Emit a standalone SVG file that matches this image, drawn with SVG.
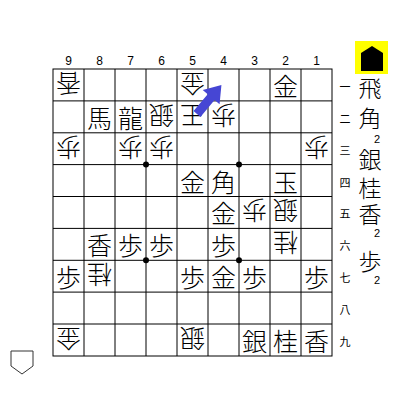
<svg xmlns="http://www.w3.org/2000/svg" width="400" height="416" viewBox="0 0 400 416">
<style>
.p{font-family:"Noto Sans CJK JP","Noto Sans CJK SC",sans-serif;font-size:25px;font-weight:300;fill:#000;text-anchor:middle;dominant-baseline:central}
.h{font-family:"Noto Sans CJK JP","Noto Sans CJK SC",sans-serif;font-size:23px;font-weight:300;fill:#000;text-anchor:middle;dominant-baseline:central}
.n{font-family:"Liberation Sans","DejaVu Sans",sans-serif;font-size:12px;fill:#000;text-anchor:middle;dominant-baseline:central}
.c{font-family:"Liberation Sans","DejaVu Sans",sans-serif;font-size:11px;fill:#000;text-anchor:middle;dominant-baseline:central}
.r{font-family:"Noto Sans CJK JP",sans-serif;font-size:11px;fill:#000;text-anchor:middle;dominant-baseline:central}
.g{stroke:#000;stroke-width:1;fill:none}
</style>
<rect width="400" height="416" fill="#fff"/>
<g id="board">
<rect x="53" y="69" width="279" height="287" class="g"/>
<path class="g" d="M84 69V356M115 69V356M146 69V356M177 69V356M208 69V356M239 69V356M270 69V356M301 69V356M53 100.9H332M53 132.8H332M53 164.6H332M53 196.5H332M53 228.4H332M53 260.3H332M53 292.1H332M53 324H332"/>
<circle cx="146" cy="164.6" r="3"/><circle cx="239" cy="164.6" r="3"/><circle cx="146" cy="260.3" r="3"/><circle cx="239" cy="260.3" r="3"/>
</g>
<g id="col-labels">
<text class="n" x="68.5" y="61">9</text><text class="n" x="99.5" y="61">8</text><text class="n" x="130.5" y="61">7</text><text class="n" x="161.5" y="61">6</text><text class="n" x="192.5" y="61">5</text><text class="n" x="223.5" y="61">4</text><text class="n" x="254.5" y="61">3</text><text class="n" x="285.5" y="61">2</text><text class="n" x="316.5" y="61">1</text>
</g>
<g id="row-labels">
<text class="r" x="345" y="86">一</text><text class="r" x="345" y="118">二</text><text class="r" x="345" y="150">三</text><text class="r" x="345" y="182">四</text><text class="r" x="345" y="213">五</text><text class="r" x="345" y="245">六</text><text class="r" x="345" y="277">七</text><text class="r" x="345" y="309">八</text><text class="r" x="345" y="341">九</text>
</g>
<g id="p91"><text class="p" x="68.5" y="84.9" transform="rotate(180 68.5 84.9)">香</text></g>
<g id="p51"><text class="p" x="192.5" y="84.9" transform="rotate(180 192.5 84.9)">金</text></g>
<g id="p21"><text class="p" x="285.5" y="84.9">金</text></g>
<g id="p82"><text class="p" x="99.5" y="116.8">馬</text></g>
<g id="p72"><text class="p" x="130.5" y="116.8">龍</text></g>
<g id="p62"><text class="p" x="161.5" y="116.8" transform="rotate(180 161.5 116.8)">銀</text></g>
<g id="p52"><text class="p" x="192.5" y="116.8" transform="rotate(180 192.5 116.8)">王</text></g>
<g id="p42"><text class="p" x="223.5" y="116.8" transform="rotate(180 223.5 116.8)">歩</text></g>
<g id="p93"><text class="p" x="68.5" y="148.7" transform="rotate(180 68.5 148.7)">歩</text></g>
<g id="p73"><text class="p" x="130.5" y="148.7" transform="rotate(180 130.5 148.7)">歩</text></g>
<g id="p63"><text class="p" x="161.5" y="148.7" transform="rotate(180 161.5 148.7)">歩</text></g>
<g id="p13"><text class="p" x="316.5" y="148.7" transform="rotate(180 316.5 148.7)">歩</text></g>
<g id="p54"><text class="p" x="192.5" y="180.6">金</text></g>
<g id="p44"><text class="p" x="223.5" y="180.6">角</text></g>
<g id="p24"><text class="p" x="285.5" y="180.6">玉</text></g>
<g id="p45"><text class="p" x="223.5" y="212.4">金</text></g>
<g id="p35"><text class="p" x="254.5" y="212.4" transform="rotate(180 254.5 212.4)">歩</text></g>
<g id="p25"><text class="p" x="285.5" y="212.4" transform="rotate(180 285.5 212.4)">銀</text></g>
<g id="p86"><text class="p" x="99.5" y="244.3">香</text></g>
<g id="p76"><text class="p" x="130.5" y="244.3">歩</text></g>
<g id="p66"><text class="p" x="161.5" y="244.3">歩</text></g>
<g id="p46"><text class="p" x="223.5" y="244.3">歩</text></g>
<g id="p26"><text class="p" x="285.5" y="244.3" transform="rotate(180 285.5 244.3)">桂</text></g>
<g id="p97"><text class="p" x="68.5" y="276.2">歩</text></g>
<g id="p87"><text class="p" x="99.5" y="276.2" transform="rotate(180 99.5 276.2)">桂</text></g>
<g id="p57"><text class="p" x="192.5" y="276.2">歩</text></g>
<g id="p47"><text class="p" x="223.5" y="276.2">金</text></g>
<g id="p37"><text class="p" x="254.5" y="276.2">歩</text></g>
<g id="p17"><text class="p" x="316.5" y="276.2">歩</text></g>
<g id="p99"><text class="p" x="68.5" y="340" transform="rotate(180 68.5 340)">金</text></g>
<g id="p59"><text class="p" x="192.5" y="340" transform="rotate(180 192.5 340)">銀</text></g>
<g id="p39"><text class="p" x="254.5" y="340">銀</text></g>
<g id="p29"><text class="p" x="285.5" y="340">桂</text></g>
<g id="p19"><text class="p" x="316.5" y="340">香</text></g>
<g id="sente-hand">
<rect x="355" y="41" width="33" height="33" fill="#ffff00"/>
<path d="M372 46L383 53V71H361V53Z" fill="#000"/>
<text class="h" x="370" y="87">飛</text>
<text class="h" x="370" y="117">角</text>
<text class="c" x="377" y="139">2</text>
<text class="h" x="370" y="158">銀</text>
<text class="h" x="370" y="186.5">桂</text>
<text class="h" x="370" y="212.5">香</text>
<text class="c" x="377" y="233">2</text>
<text class="h" x="370" y="260">歩</text>
<text class="c" x="377" y="280">2</text>
</g>
<g id="gote-hand">
<path d="M11 351H33V366L22 374L11 366Z" fill="#fff" stroke="#333" stroke-width="1"/>
</g>
<g id="connectors">
<path d="M0 -4.5H22V-11L38 0L22 11V4.5H0Z" fill="#4646d4" transform="translate(197 114) rotate(-50)"/>
</g>
</svg>
